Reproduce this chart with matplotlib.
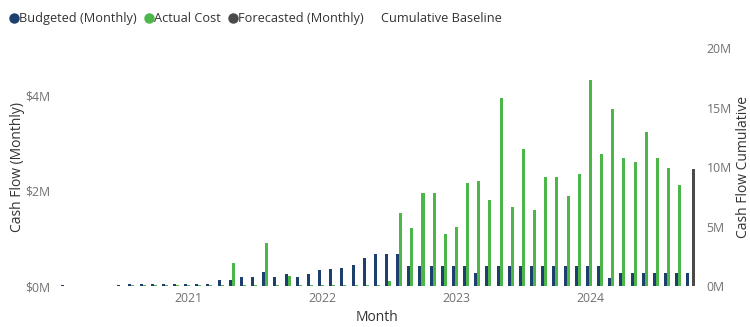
import numpy as np
import pandas as pd
import matplotlib
matplotlib.use("Agg")
import matplotlib.pyplot as plt
from matplotlib.lines import Line2D
from matplotlib.ticker import FuncFormatter, MultipleLocator

plt.rcParams['font.family'] = ['Open Sans', 'DejaVu Sans']

# monthly cash flow, Feb 2020 .. Oct 2024 (values in $M)
months = pd.period_range("2020-02", "2024-10", freq="M")

budgeted = [0.03, 0, 0, 0, 0, 0.03, 0.04, 0.04, 0.04, 0.04, 0.04,
            0.04, 0.04, 0.04, 0.12, 0.12, 0.20, 0.20, 0.30, 0.20, 0.25, 0.20, 0.25,
            0.34, 0.36, 0.39, 0.44, 0.59, 0.68, 0.68, 0.68, 0.42, 0.42, 0.42, 0.42,
            0.42, 0.42, 0.27, 0.42, 0.42, 0.42, 0.42, 0.42, 0.42, 0.42, 0.42, 0.42,
            0.42, 0.42, 0.17, 0.27, 0.27, 0.27, 0.27, 0.27, 0.27, 0.27]

actual = [0, 0, 0, 0, 0, 0, 0.02, 0.02, 0.02, 0.02, 0.02,
          0.02, 0.02, 0.02, 0.03, 0.49, 0.03, 0.03, 0.91, 0.03, 0.22, 0.03, 0.03,
          0.03, 0.03, 0.03, 0.03, 0.03, 0.03, 0.10, 1.54, 1.23, 1.95, 1.96, 1.09,
          1.25, 2.16, 2.20, 1.80, 3.95, 1.66, 2.88, 1.60, 2.30, 2.30, 1.90, 2.36,
          4.32, 2.78, 3.71, 2.69, 2.60, 3.23, 2.69, 2.48, 2.13, 0]

forecasted = [0] * 56 + [2.46]

year_ticks = ["2021", "2022", "2023", "2024"]

# x position = months since Jan 2021
x = np.array([(m.year - 2021) * 12 + (m.month - 1) for m in months])
w = 0.27

c_blue = "#1d3f6e"
c_green = "#4cb648"
c_gray = "#4a4a4a"

fig = plt.figure(figsize=(7.5, 3.27), dpi=100)
ax = fig.add_axes([0.073, 0.125, 0.86, 0.728])

ax.bar(x - w, budgeted, width=w, color=c_blue, linewidth=0)
ax.bar(x, actual, width=w, color=c_green, linewidth=0)
ax.bar(x + w, forecasted, width=w, color=c_gray, linewidth=0)

ax.set_xlim(-12.0, 45.8)
ax.set_ylim(0, 5)
ax.yaxis.set_major_locator(MultipleLocator(2))
ax.yaxis.set_major_formatter(FuncFormatter(lambda v, p: f"${v:.0f}M"))
ax.set_xticks([0, 12, 24, 36])
ax.set_xticklabels(year_ticks)

# right axis for the cumulative scale
ax2 = ax.twinx()
ax2.set_ylim(0, 20)
ax2.yaxis.set_major_locator(MultipleLocator(5))
ax2.yaxis.set_major_formatter(FuncFormatter(lambda v, p: f"{v:.0f}M"))

tick_col = "#707070"
for a in (ax, ax2):
    for s in a.spines.values():
        s.set_visible(False)
    a.tick_params(length=0, labelsize=8.8, colors=tick_col)
ax.tick_params(axis='y', pad=3)
ax.tick_params(axis='x', pad=4)
ax2.tick_params(axis='y', pad=5)

ax.set_xlabel("Month", fontsize=10, color="#333333", labelpad=4)
ax.set_ylabel("Cash Flow (Monthly)", fontsize=10, color="#333333", labelpad=0)
ax2.set_ylabel("Cash Flow Cumulative", fontsize=10, color="#333333", labelpad=3)

handles = [
    Line2D([], [], marker='o', linestyle='none', color=c_blue, markersize=6.5),
    Line2D([], [], marker='o', linestyle='none', color=c_green, markersize=6.5),
    Line2D([], [], marker='o', linestyle='none', color=c_gray, markersize=6.5),
    Line2D([], [], color='none'),
]
labels = ["Budgeted (Monthly)", "Actual Cost", "Forecasted (Monthly)", "Cumulative Baseline"]
fig.legend(handles, labels, loc='center left', bbox_to_anchor=(-0.003, 0.942), ncol=4,
           frameon=False, fontsize=9.2, handletextpad=0.0, columnspacing=0.55,
           handlelength=0.8, labelcolor="#333333")

fig.savefig("out.png", dpi=100)
